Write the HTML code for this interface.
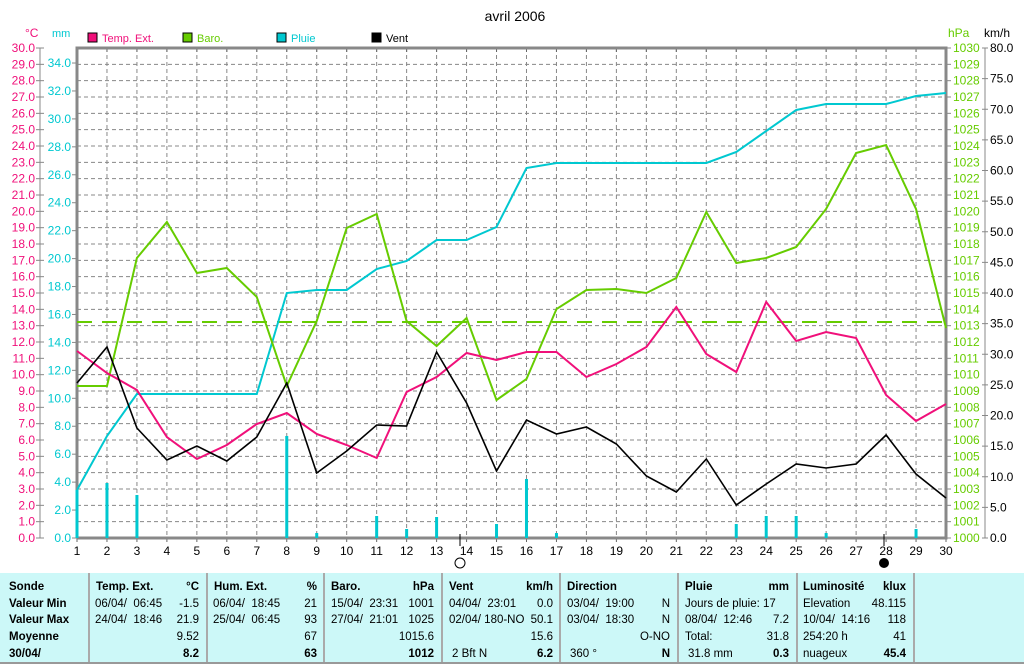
<!DOCTYPE html>
<html><head><meta charset="utf-8"><style>
body{margin:0;background:#fff;width:1024px;height:664px;overflow:hidden;font-family:"Liberation Sans",sans-serif}
svg{position:absolute;left:0;top:0}
#tb{position:absolute;left:0;top:573px;width:1024px;height:89px;background:#ccf8f8;border-bottom:2px solid #999;font-size:11.5px}
.c{position:absolute;top:0;height:89px;border-left:2px solid #aaa}
.t{position:absolute;white-space:nowrap}
.b{font-weight:bold}
</style></head><body>
<svg id="s" width="1024" height="573" font-family="Liberation Sans, sans-serif"></svg>
<div id="tb"></div>
<script>
const s=document.getElementById('s');let h='';
const X=d=>77+(d-1)*29.966, Y0=538, TOP=48;
h+='<text x="515" y="21" font-size="14" text-anchor="middle">avril 2006</text>';
for(let i=1;i<30;i++){let y=Y0-i*16.333;h+=`<line x1="77" x2="946" y1="${y}" y2="${y}" stroke="#888" stroke-dasharray="4,3"/>`;}
for(let d=2;d<30;d++){h+=`<line x1="${X(d)}" x2="${X(d)}" y1="48" y2="538" stroke="#888" stroke-dasharray="4,3"/>`;}
for(let d=1;d<=30;d++){h+=`<line x1="${X(d)}" x2="${X(d)}" y1="48" y2="52" stroke="#666"/><line x1="${X(d)}" x2="${X(d)}" y1="538" y2="542" stroke="#666"/><text x="${X(d)}" y="555" font-size="12" text-anchor="middle">${d}</text>`;}
h+='<line x1="40" x2="40" y1="48" y2="538" stroke="#888"/>';
for(let i=0;i<=30;i++){let y=Y0-i*16.333;h+=`<line x1="36" x2="44" y1="${y}" y2="${y}" stroke="#888"/><text x="35" y="${y+4}" font-size="12" fill="#f0107a" text-anchor="end">${i}.0</text>`;}
h+='<text x="25" y="37" font-size="12" fill="#f0107a">°C</text><text x="52" y="37" font-size="11" fill="#00c8d0">mm</text>';
for(let m=0;m<=34;m+=2){let y=Y0-m*13.97;h+=`<line x1="72" x2="77" y1="${y}" y2="${y}" stroke="#888"/><text x="71" y="${y+4}" font-size="12" fill="#00c8d0" text-anchor="end">${m}.0</text>`;}
for(let i=0;i<=30;i++){let y=Y0-i*16.333;h+=`<line x1="946" x2="951" y1="${y}" y2="${y}" stroke="#888"/><text x="953" y="${y+4}" font-size="12" fill="#66cc00">${1000+i}</text>`;}
h+='<text x="948" y="37" font-size="12" fill="#66cc00">hPa</text><text x="984" y="37" font-size="12">km/h</text>';
h+='<line x1="985" x2="985" y1="48" y2="538" stroke="#888"/>';
for(let k=0;k<=80;k+=5){let y=Y0-k*6.125;h+=`<line x1="982" x2="988" y1="${y}" y2="${y}" stroke="#888"/><text x="990" y="${y+4}" font-size="12">${k}.0</text>`;}
h+='<polyline points="77,538 77,48 946,48 946,538 77,538" fill="none" stroke="#888" stroke-width="3"/>';
[[88,'#f0107a','Temp. Ext.'],[183,'#66cc00','Baro.'],[277,'#00c8d0','Pluie'],[372,'#000','Vent']].forEach(([x,c,t])=>{h+=`<rect x="${x}" y="33" width="9" height="9" fill="${c}" stroke="#000"/><text x="${x+14}" y="42" font-size="11" fill="${c}">${t}</text>`;});
h+='<line x1="77" x2="946" y1="322" y2="322" stroke="#66cc00" stroke-width="2" stroke-dasharray="15,10"/>';
const bars={1:490,2:483,3:495,8:436,9:533,11:516,12:529,13:517,15:524,16:479,17:533,23:524,24:516,25:516,26:533,29:529};
for(const d in bars){h+=`<rect x="${X(+d)-1.5}" y="${bars[d]}" width="3" height="${538-bars[d]}" fill="#00c8d0"/>`;}
const P=a=>a.map((y,i)=>X(i+1).toFixed(1)+','+y).join(' ');
const pl=(a,c,w)=>h+=`<polyline points="${P(a)}" fill="none" stroke="${c}" stroke-width="${w}"/>`;
pl([490,436,394,394,394,394,394,293,290,290,269,261,240,240,227,168,163,163,163,163,163,163,152,131,110,104,104,104,96,93],'#00c8d0',2);
pl([386,386,258,222,273,268,297,386,321,228,214,321,346,318,400,379,309,290,289,293,278,212,263,258,247,209,153,145,209,328],'#66cc00',2);
pl([351,373,390,437,459,445,424,413,434,445,458,392,377,353,360,352,352,377,364,347,307,354,372,302,341,332,338,395,421,404],'#f0107a',2);
pl([383,347,428,460,446,461,437,383,473,451,425,426,352,403,471,420,434,427,444,476,492,459,505,484,464,468,464,435,474,498],'#000',1.6);
h+='<line x1="460" x2="460" y1="534" y2="546" stroke="#000"/><circle cx="460" cy="563" r="5" fill="none" stroke="#000"/>';
h+='<line x1="884" x2="884" y1="534" y2="546" stroke="#000"/><circle cx="884" cy="563" r="5" fill="#000"/>';
s.innerHTML=h;
let t='';
[88,206,323,441,559,677,796,913].forEach(x=>t+=`<div class="c" style="left:${x}px"></div>`);
const rows=[8,25,41,58,75];
const L=(x,r,txt,b)=>t+=`<div class="t${b?' b':''}" style="left:${x}px;top:${rows[r]}px">${txt}</div>`;
const R=(x,r,txt,b)=>t+=`<div class="t${b?' b':''}" style="right:${1024-x}px;top:${rows[r]}px">${txt}</div>`;
['Sonde','Valeur Min','Valeur Max','Moyenne','30/04/'].forEach((v,i)=>L(9,i,v,1));
L(96,0,'Temp. Ext.',1);R(199,0,'°C',1);L(95,1,'06/04/&nbsp; 06:45');R(199,1,'-1.5');L(95,2,'24/04/&nbsp; 18:46');R(199,2,'21.9');R(199,3,'9.52');R(199,4,'8.2',1);
L(214,0,'Hum. Ext.',1);R(317,0,'%',1);L(213,1,'06/04/&nbsp; 18:45');R(317,1,'21');L(213,2,'25/04/&nbsp; 06:45');R(317,2,'93');R(317,3,'67');R(317,4,'63',1);
L(331,0,'Baro.',1);R(434,0,'hPa',1);L(331,1,'15/04/&nbsp; 23:31');R(434,1,'1001');L(331,2,'27/04/&nbsp; 21:01');R(434,2,'1025');R(434,3,'1015.6');R(434,4,'1012',1);
L(449,0,'Vent',1);R(553,0,'km/h',1);L(449,1,'04/04/&nbsp; 23:01');R(553,1,'0.0');L(449,2,'02/04/ 180-NO');R(553,2,'50.1');R(553,3,'15.6');L(452,4,'2 Bft N');R(553,4,'6.2',1);
L(567,0,'Direction',1);L(567,1,'03/04/&nbsp; 19:00');R(670,1,'N');L(567,2,'03/04/&nbsp; 18:30');R(670,2,'N');R(670,3,'O-NO');L(570,4,'360 °');R(670,4,'N',1);
L(685,0,'Pluie',1);R(789,0,'mm',1);L(685,1,'Jours de pluie: 17');L(685,2,'08/04/&nbsp; 12:46');R(789,2,'7.2');L(685,3,'Total:');R(789,3,'31.8');L(688,4,'31.8 mm');R(789,4,'0.3',1);
L(803,0,'Luminosité',1);R(906,0,'klux',1);L(803,1,'Elevation');R(906,1,'48.115');L(803,2,'10/04/&nbsp; 14:16');R(906,2,'118');L(803,3,'254:20 h');R(906,3,'41');L(803,4,'nuageux');R(906,4,'45.4',1);
document.getElementById('tb').innerHTML=t;
</script>
</body></html>
